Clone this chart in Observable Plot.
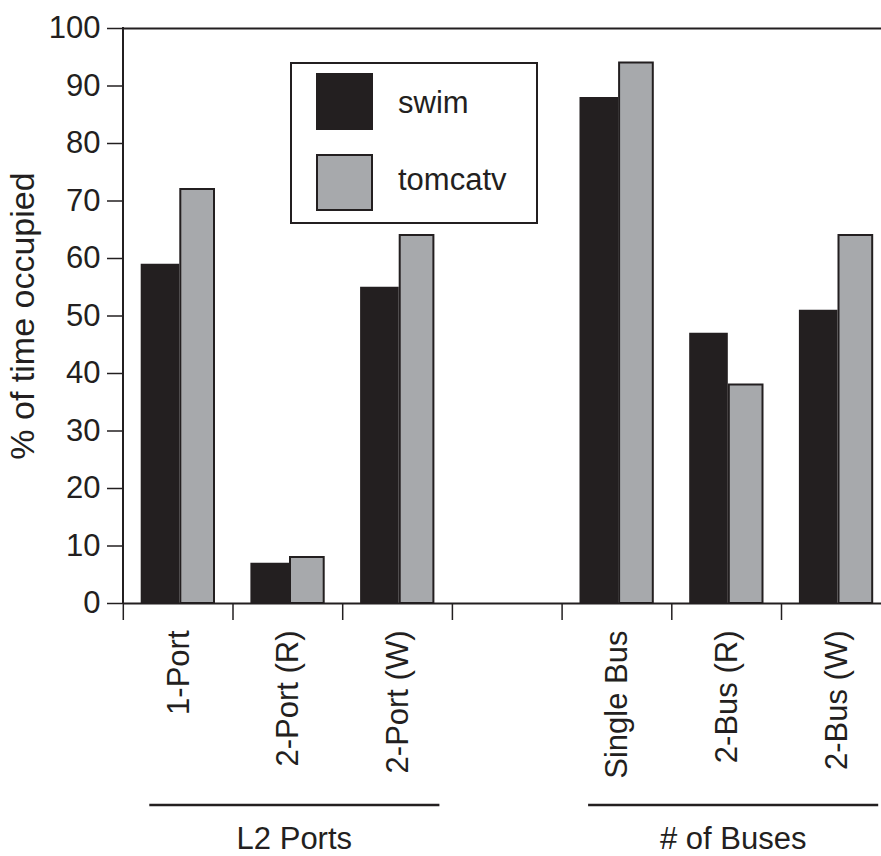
<!DOCTYPE html>
<html>
<head>
<meta charset="utf-8">
<script src="https://cdn.jsdelivr.net/npm/d3@7"></script>
<script src="https://cdn.jsdelivr.net/npm/@observablehq/plot@0.6"></script>
<style>
  html, body { margin: 0; padding: 0; background: #fff; }
  #chart svg { display: block; }
</style>
</head>
<body>
<div id="chart"></div>
<script>
// ---- data ----
const categories = ["1-Port", "2-Port (R)", "2-Port (W)", " ", "Single Bus", "2-Bus (R)", "2-Bus (W)"];
const series = ["swim", "tomcatv"];
const swim    = [59, 7, 55, null, 88, 47, 51];
const tomcatv = [72, 8, 64, null, 94, 38, 64];
const seriesColors = ["#231f20", "#a7a9ac"];
const yTicks = [0, 10, 20, 30, 40, 50, 60, 70, 80, 90, 100];
const groups = ["L2 Ports", "# of Buses"];
const groupFirst = ["1-Port", "Single Bus"];
const groupLast = ["2-Port (W)", "2-Bus (W)"];
const yLabel = "% of time occupied";

const ink = "#231f20";
const font = "'Liberation Sans', Arial, Helvetica, sans-serif";

const rows = [];
categories.forEach((c, i) => {
  if (swim[i] != null) rows.push({category: c, series: "swim", value: swim[i]});
  if (tomcatv[i] != null) rows.push({category: c, series: "tomcatv", value: tomcatv[i]});
});

function decorations(index, scales, values, dimensions) {
  const x = scales.x, y = scales.y, bw = x.bandwidth();
  const y0 = y(0);
  const g = d3.create("svg:g").attr("fill", "none").attr("stroke", ink);
  // left axis line
  g.append("line")
    .attr("x1", dimensions.marginLeft).attr("x2", dimensions.marginLeft)
    .attr("y1", y(100) - 1).attr("y2", y0 + 1).attr("stroke-width", 2);
  // band boundary ticks below the x axis
  for (const c of categories) {
    const xs = x(c);
    g.append("line")
      .attr("x1", xs).attr("x2", xs)
      .attr("y1", y0).attr("y2", y0 + 17).attr("stroke-width", 1.5);
  }
  // group rules and labels
  groups.forEach((name, i) => {
    const x1 = x(groupFirst[i]) + 26;
    const x2 = x(groupLast[i]) + bw - 13;
    g.append("line")
      .attr("x1", x1).attr("x2", x2)
      .attr("y1", y0 + 202).attr("y2", y0 + 202).attr("stroke-width", 2.5);
    g.append("text")
      .attr("x", (x1 + x2) / 2).attr("y", y0 + 246)
      .attr("text-anchor", "middle").attr("stroke", "none").attr("fill", ink)
      .attr("font-size", 31).attr("font-family", font)
      .text(name);
  });
  // legend
  const lx = dimensions.marginLeft + 168, ly = dimensions.marginTop + 35;
  g.append("rect").attr("x", lx).attr("y", ly).attr("width", 246).attr("height", 160)
    .attr("fill", "#fff").attr("stroke-width", 2);
  series.forEach((s, i) => {
    const sy = ly + 11 + i * 81;
    g.append("rect").attr("x", lx + 26).attr("y", sy).attr("width", 55).attr("height", 55)
      .attr("fill", scales.color(s)).attr("stroke-width", 2);
    g.append("text").attr("x", lx + 107).attr("y", sy + 39 - i * 4)
      .attr("text-anchor", "start").attr("stroke", "none").attr("fill", ink)
      .attr("font-size", 31).attr("font-family", font)
      .text(s);
  });
  return g.node();
}

const chart = Plot.plot({
  width: 881,
  height: 856,
  marginLeft: 123,
  marginRight: 0,
  marginTop: 28,
  marginBottom: 253,
  style: {fontFamily: font, fontSize: "31px", color: ink, background: "#fff"},
  x: {type: "band", domain: categories, range: [123.3, 891.2], paddingInner: 0, paddingOuter: 0, round: false, axis: null},
  y: {domain: [0, 100], axis: null},
  color: {domain: series, range: seriesColors},
  marks: [
    Plot.barY(rows.filter(d => d.series === "swim"), {
      x: "category", y: "value", fill: "series", insetLeft: 17.4, insetRight: 53.7
    }),
    Plot.barY(rows.filter(d => d.series === "tomcatv"), {
      x: "category", y: "value", fill: "series", stroke: ink, strokeWidth: 2, insetLeft: 57, insetRight: 19
    }),
    Plot.axisY({ticks: yTicks, tickSize: 16, tickPadding: 7, fontSize: 31, label: null, color: ink, strokeWidth: 1.5}),
    Plot.ruleY([0, 100], {stroke: ink, strokeWidth: 2}),
    Plot.text(categories, {
      x: d => d, text: d => d.trim(), frameAnchor: "bottom", rotate: -90,
      textAnchor: "end", lineAnchor: "middle", dy: 27, fontSize: 31, fill: ink
    }),
    Plot.text([yLabel], {
      frameAnchor: "left", rotate: -90, dx: -100, fontSize: 34, fill: ink,
      textAnchor: "middle", lineAnchor: "middle", text: d => d
    }),
    decorations
  ]
});

document.getElementById("chart").appendChild(chart);
</script>
</body>
</html>
